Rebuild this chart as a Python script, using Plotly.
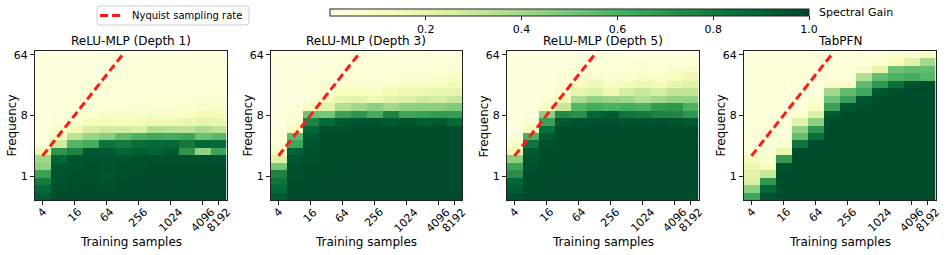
import numpy as np
import plotly.graph_objects as go

# ---------------- data ----------------
training_samples = [4, 8, 16, 32, 64, 128, 256, 512, 1024, 2048, 4096, 8192]
frequencies = [0.5, 0.6455, 0.8333, 1.0757, 1.3886, 1.7927, 2.3143, 2.9876, 3.8568, 4.9788,
               6.4273, 8.2972, 10.711, 13.827, 17.850, 23.043, 29.746, 38.40, 49.57, 64.0]
x_tick_values = [4, 16, 64, 256, 1024, 4096, 8192]
y_tick_values = [1, 8, 64]
colorbar_ticks = [0.2, 0.4, 0.6, 0.8, 1.0]
panel_titles = ["ReLU-MLP (Depth 1)", "ReLU-MLP (Depth 3)", "ReLU-MLP (Depth 5)", "TabPFN"]
nyquist_samples = [4, 128]
nyquist_freq = [2, 64]

# rows: bottom (lowest frequency) to top; columns follow training_samples
gain_depth1 = [
    [0.92, 0.97, 0.97, 0.97, 0.97, 0.98, 0.98, 0.98, 0.98, 0.98, 0.98, 0.98],
    [0.86, 0.96, 0.97, 0.97, 0.96, 0.97, 0.98, 0.98, 0.98, 0.98, 0.98, 0.98],
    [0.79, 0.95, 0.96, 0.96, 0.95, 0.97, 0.97, 0.98, 0.98, 0.97, 0.98, 0.98],
    [0.66, 0.95, 0.96, 0.96, 0.94, 0.96, 0.97, 0.97, 0.97, 0.97, 0.97, 0.97],
    [0.44, 0.94, 0.95, 0.96, 0.95, 0.96, 0.96, 0.97, 0.97, 0.97, 0.97, 0.97],
    [0.40, 0.88, 0.95, 0.95, 0.95, 0.95, 0.96, 0.96, 0.96, 0.96, 0.96, 0.96],
    [0.18, 0.70, 0.76, 0.94, 0.93, 0.88, 0.91, 0.89, 0.93, 0.70, 0.44, 0.65],
    [0.05, 0.28, 0.58, 0.62, 0.83, 0.80, 0.84, 0.86, 0.87, 0.80, 0.87, 0.86],
    [0.03, 0.12, 0.33, 0.42, 0.46, 0.55, 0.60, 0.63, 0.62, 0.64, 0.53, 0.57],
    [0.03, 0.07, 0.15, 0.25, 0.28, 0.27, 0.25, 0.36, 0.34, 0.33, 0.38, 0.33],
    [0.02, 0.04, 0.07, 0.12, 0.14, 0.13, 0.14, 0.16, 0.16, 0.17, 0.20, 0.18],
    [0.02, 0.03, 0.05, 0.07, 0.08, 0.08, 0.08, 0.09, 0.09, 0.10, 0.14, 0.12],
    [0.02, 0.03, 0.04, 0.05, 0.05, 0.05, 0.06, 0.06, 0.06, 0.07, 0.08, 0.08],
    [0.02, 0.02, 0.03, 0.04, 0.04, 0.04, 0.04, 0.05, 0.05, 0.05, 0.06, 0.06],
    [0.02, 0.02, 0.03, 0.03, 0.03, 0.04, 0.04, 0.04, 0.04, 0.04, 0.05, 0.05],
    [0.02, 0.02, 0.02, 0.03, 0.03, 0.03, 0.03, 0.03, 0.04, 0.04, 0.04, 0.04],
    [0.02, 0.02, 0.02, 0.03, 0.03, 0.03, 0.03, 0.03, 0.03, 0.03, 0.04, 0.04],
    [0.02, 0.02, 0.02, 0.02, 0.03, 0.03, 0.03, 0.03, 0.03, 0.03, 0.03, 0.03],
    [0.02, 0.02, 0.02, 0.02, 0.02, 0.02, 0.03, 0.03, 0.03, 0.03, 0.03, 0.03],
    [0.02, 0.02, 0.02, 0.02, 0.02, 0.02, 0.02, 0.02, 0.02, 0.03, 0.03, 0.03],
]

gain_depth3 = [
    [0.92, 0.97, 0.98, 0.98, 0.98, 0.98, 0.98, 0.98, 0.98, 0.98, 0.98, 0.98],
    [0.87, 0.97, 0.98, 0.98, 0.98, 0.98, 0.98, 0.98, 0.98, 0.98, 0.98, 0.98],
    [0.82, 0.97, 0.97, 0.98, 0.98, 0.98, 0.98, 0.98, 0.98, 0.98, 0.98, 0.98],
    [0.76, 0.96, 0.97, 0.97, 0.98, 0.98, 0.98, 0.98, 0.98, 0.98, 0.98, 0.98],
    [0.50, 0.96, 0.97, 0.97, 0.97, 0.98, 0.98, 0.98, 0.98, 0.98, 0.98, 0.98],
    [0.22, 0.94, 0.96, 0.97, 0.97, 0.97, 0.97, 0.97, 0.97, 0.97, 0.97, 0.97],
    [0.12, 0.90, 0.96, 0.97, 0.97, 0.97, 0.97, 0.97, 0.97, 0.97, 0.97, 0.97],
    [0.04, 0.64, 0.95, 0.97, 0.97, 0.97, 0.97, 0.97, 0.97, 0.97, 0.97, 0.97],
    [0.03, 0.56, 0.92, 0.97, 0.97, 0.97, 0.97, 0.97, 0.97, 0.97, 0.97, 0.97],
    [0.02, 0.12, 0.88, 0.96, 0.96, 0.97, 0.97, 0.97, 0.97, 0.97, 0.97, 0.97],
    [0.02, 0.05, 0.76, 0.86, 0.92, 0.94, 0.95, 0.92, 0.95, 0.90, 0.93, 0.86],
    [0.02, 0.03, 0.52, 0.50, 0.66, 0.70, 0.62, 0.76, 0.64, 0.66, 0.68, 0.67],
    [0.02, 0.03, 0.10, 0.22, 0.36, 0.40, 0.45, 0.40, 0.45, 0.45, 0.45, 0.48],
    [0.02, 0.02, 0.05, 0.12, 0.20, 0.22, 0.15, 0.22, 0.24, 0.28, 0.26, 0.30],
    [0.02, 0.02, 0.04, 0.06, 0.12, 0.12, 0.10, 0.14, 0.16, 0.16, 0.20, 0.20],
    [0.02, 0.02, 0.03, 0.04, 0.07, 0.07, 0.06, 0.08, 0.10, 0.10, 0.12, 0.14],
    [0.02, 0.02, 0.03, 0.03, 0.04, 0.05, 0.04, 0.05, 0.06, 0.06, 0.08, 0.10],
    [0.02, 0.02, 0.02, 0.03, 0.03, 0.03, 0.03, 0.04, 0.04, 0.04, 0.05, 0.06],
    [0.02, 0.02, 0.02, 0.02, 0.03, 0.03, 0.03, 0.03, 0.03, 0.03, 0.04, 0.04],
    [0.02, 0.02, 0.02, 0.02, 0.02, 0.02, 0.02, 0.02, 0.03, 0.03, 0.03, 0.03],
]

gain_depth5 = [
    [0.95, 0.98, 0.98, 0.98, 0.98, 0.98, 0.98, 0.98, 0.98, 0.98, 0.98, 0.98],
    [0.92, 0.97, 0.98, 0.98, 0.98, 0.98, 0.98, 0.98, 0.98, 0.98, 0.98, 0.98],
    [0.88, 0.97, 0.98, 0.98, 0.98, 0.98, 0.98, 0.98, 0.98, 0.98, 0.98, 0.98],
    [0.72, 0.97, 0.97, 0.98, 0.98, 0.98, 0.98, 0.98, 0.98, 0.98, 0.98, 0.98],
    [0.65, 0.96, 0.97, 0.97, 0.98, 0.98, 0.98, 0.98, 0.98, 0.98, 0.98, 0.98],
    [0.45, 0.95, 0.97, 0.97, 0.97, 0.98, 0.98, 0.98, 0.98, 0.98, 0.98, 0.98],
    [0.16, 0.92, 0.97, 0.97, 0.97, 0.97, 0.97, 0.97, 0.97, 0.97, 0.97, 0.97],
    [0.07, 0.82, 0.96, 0.97, 0.97, 0.97, 0.97, 0.97, 0.97, 0.97, 0.97, 0.97],
    [0.03, 0.60, 0.92, 0.97, 0.97, 0.97, 0.97, 0.97, 0.97, 0.97, 0.97, 0.97],
    [0.02, 0.12, 0.84, 0.97, 0.97, 0.97, 0.97, 0.97, 0.97, 0.97, 0.97, 0.97],
    [0.02, 0.05, 0.66, 0.93, 0.95, 0.96, 0.96, 0.95, 0.95, 0.96, 0.95, 0.92],
    [0.02, 0.03, 0.45, 0.74, 0.72, 0.88, 0.92, 0.82, 0.80, 0.76, 0.75, 0.70],
    [0.02, 0.02, 0.10, 0.30, 0.58, 0.62, 0.60, 0.62, 0.60, 0.68, 0.70, 0.60],
    [0.02, 0.02, 0.05, 0.14, 0.38, 0.44, 0.42, 0.40, 0.36, 0.40, 0.44, 0.44],
    [0.02, 0.02, 0.03, 0.07, 0.20, 0.24, 0.16, 0.26, 0.30, 0.26, 0.32, 0.32],
    [0.02, 0.02, 0.03, 0.05, 0.12, 0.16, 0.10, 0.13, 0.18, 0.14, 0.20, 0.22],
    [0.02, 0.02, 0.02, 0.04, 0.06, 0.08, 0.06, 0.07, 0.10, 0.08, 0.12, 0.15],
    [0.02, 0.02, 0.02, 0.03, 0.04, 0.05, 0.04, 0.05, 0.06, 0.05, 0.07, 0.08],
    [0.02, 0.02, 0.02, 0.02, 0.03, 0.03, 0.03, 0.03, 0.04, 0.03, 0.04, 0.04],
    [0.02, 0.02, 0.02, 0.02, 0.02, 0.02, 0.02, 0.02, 0.02, 0.02, 0.03, 0.03],
]

gain_tabpfn = [
    [0.64, 0.95, 0.97, 0.97, 0.97, 0.97, 0.97, 0.97, 0.97, 0.97, 0.97, 0.97],
    [0.45, 0.88, 0.97, 0.97, 0.97, 0.97, 0.97, 0.97, 0.97, 0.97, 0.97, 0.97],
    [0.25, 0.70, 0.97, 0.97, 0.97, 0.97, 0.97, 0.97, 0.97, 0.97, 0.97, 0.97],
    [0.21, 0.30, 0.97, 0.97, 0.97, 0.97, 0.97, 0.97, 0.97, 0.97, 0.97, 0.97],
    [0.17, 0.12, 0.96, 0.97, 0.97, 0.97, 0.97, 0.97, 0.97, 0.97, 0.97, 0.97],
    [0.12, 0.06, 0.68, 0.97, 0.97, 0.97, 0.97, 0.97, 0.97, 0.97, 0.97, 0.97],
    [0.06, 0.04, 0.18, 0.97, 0.97, 0.97, 0.97, 0.97, 0.97, 0.97, 0.97, 0.97],
    [0.04, 0.03, 0.06, 0.82, 0.97, 0.97, 0.97, 0.97, 0.97, 0.97, 0.97, 0.97],
    [0.03, 0.03, 0.04, 0.54, 0.84, 0.97, 0.97, 0.97, 0.97, 0.97, 0.97, 0.97],
    [0.03, 0.03, 0.03, 0.44, 0.70, 0.97, 0.97, 0.97, 0.97, 0.97, 0.97, 0.97],
    [0.03, 0.03, 0.03, 0.22, 0.45, 0.97, 0.97, 0.97, 0.97, 0.97, 0.97, 0.97],
    [0.03, 0.03, 0.03, 0.06, 0.24, 0.93, 0.97, 0.97, 0.97, 0.97, 0.97, 0.97],
    [0.03, 0.03, 0.03, 0.04, 0.10, 0.65, 0.94, 0.97, 0.97, 0.97, 0.97, 0.97],
    [0.03, 0.03, 0.03, 0.03, 0.05, 0.52, 0.66, 0.94, 0.97, 0.97, 0.97, 0.97],
    [0.03, 0.03, 0.03, 0.03, 0.03, 0.40, 0.55, 0.64, 0.94, 0.97, 0.97, 0.97],
    [0.03, 0.03, 0.03, 0.03, 0.03, 0.09, 0.10, 0.55, 0.70, 0.84, 0.95, 0.97],
    [0.03, 0.03, 0.03, 0.03, 0.03, 0.04, 0.04, 0.36, 0.55, 0.60, 0.62, 0.58],
    [0.03, 0.03, 0.03, 0.03, 0.03, 0.03, 0.03, 0.08, 0.20, 0.52, 0.55, 0.55],
    [0.03, 0.03, 0.03, 0.03, 0.03, 0.03, 0.03, 0.04, 0.06, 0.12, 0.22, 0.40],
    [0.03, 0.03, 0.03, 0.03, 0.03, 0.03, 0.03, 0.03, 0.03, 0.05, 0.06, 0.10],
]

panels = [gain_depth1, gain_depth3, gain_depth5, gain_tabpfn]

# ---------------- styling ----------------
W, H = 947, 255
FONT = "DejaVu Sans"
INK = "#222222"
NYQ_COLOR = "#ff1a1a"
ylgn = [
    [0.000, "rgb(255,255,229)"], [0.125, "rgb(247,252,185)"], [0.250, "rgb(217,240,163)"],
    [0.375, "rgb(173,221,142)"], [0.500, "rgb(120,198,121)"], [0.625, "rgb(65,171,93)"],
    [0.750, "rgb(35,132,67)"], [0.875, "rgb(0,104,55)"], [1.000, "rgb(0,69,41)"],
]

# panel pixel extents (left, right), shared top/bottom
panel_px = [(34.5, 226.5), (270.5, 462.0), (506.5, 698.5), (743.5, 935.5)]
top_px, bottom_px = 51.0, 200.0


def px_x(v):
    return v / W


def px_y(v):
    return 1 - v / H


xs = np.log2(training_samples)
ys = np.log2(frequencies)
x_range = [xs[0] - 0.5, xs[-1] + 0.5]
dy = (ys[-1] - ys[0]) / (len(ys) - 1)
y_range = [ys[0] - dy / 2, ys[-1] + dy / 2]

fig = go.Figure()
annotations = []
shapes = []
layout_axes = {}

for i, (z, title) in enumerate(zip(panels, panel_titles)):
    n = i + 1
    xa = "x" if n == 1 else f"x{n}"
    ya = "y" if n == 1 else f"y{n}"
    fig.add_trace(go.Heatmap(
        x=xs, y=ys, z=z, coloraxis="coloraxis",
        xaxis=xa, yaxis=ya, hoverongaps=False,
    ))
    fig.add_trace(go.Scatter(
        x=np.log2(nyquist_samples), y=np.log2(nyquist_freq), mode="lines",
        line=dict(color=NYQ_COLOR, width=3, dash="8px,4px"),
        name="Nyquist sampling rate", showlegend=False,
        xaxis=xa, yaxis=ya,
    ))
    l, r = panel_px[i]
    xkey = "xaxis" if n == 1 else f"xaxis{n}"
    ykey = "yaxis" if n == 1 else f"yaxis{n}"
    layout_axes[xkey] = dict(
        domain=[px_x(l), px_x(r)], range=x_range, anchor=ya,
        tickvals=list(np.log2(x_tick_values)), showticklabels=False,
        ticks="outside", ticklen=3.5, tickwidth=1, tickcolor=INK,
        showline=True, linecolor=INK, linewidth=1, mirror=True,
        showgrid=False, zeroline=False,
    )
    layout_axes[ykey] = dict(
        domain=[px_y(bottom_px), px_y(top_px)], range=y_range, anchor=xa,
        tickvals=list(np.log2(y_tick_values)), ticktext=[str(v) for v in y_tick_values],
        ticks="outside", ticklen=3.5, tickwidth=1, tickcolor=INK,
        tickfont=dict(size=11, color="black", family=FONT),
        showline=True, linecolor=INK, linewidth=1, mirror=True,
        showgrid=False, zeroline=False,
    )
    cx = px_x((l + r) / 2)
    annotations.append(dict(
        text=title, x=cx, y=px_y(41), xref="paper", yref="paper",
        xanchor="center", yanchor="middle", showarrow=False,
        font=dict(size=12, color="black", family=FONT),
    ))
    annotations.append(dict(
        text="Training samples", x=cx, y=px_y(241.5), xref="paper", yref="paper",
        xanchor="center", yanchor="middle", showarrow=False,
        font=dict(size=12, color="black", family=FONT),
    ))
    annotations.append(dict(
        text="Frequency", x=px_x(l - 23), y=px_y(126), xref="paper", yref="paper",
        xanchor="center", yanchor="middle", showarrow=False, textangle=-90,
        font=dict(size=12, color="black", family=FONT),
    ))
    for tv in x_tick_values:
        annotations.append(dict(
            text=str(tv), x=float(np.log2(tv)), y=px_y(204.5), xref=xa, yref="paper",
            xanchor="center", yanchor="top", showarrow=False, textangle=-45,
            borderpad=0,
            font=dict(size=11, color="black", family=FONT),
        ))

# colorbar label
annotations.append(dict(
    text="Spectral Gain", x=px_x(817), y=px_y(12), xref="paper", yref="paper",
    xanchor="left", yanchor="middle", showarrow=False,
    font=dict(size=11, color="black", family=FONT),
))

# legend box (matplotlib-style, rounded)
lx0, lx1, ly0, ly1, rad = 97, 249, 6, 25, 3
bx0, bx1 = px_x(lx0), px_x(lx1)
by0, by1 = px_y(ly1), px_y(ly0)
rx, ry = rad / W, rad / H
legend_path = (
    f"M {bx0 + rx},{by1} L {bx1 - rx},{by1} Q {bx1},{by1} {bx1},{by1 - ry} "
    f"L {bx1},{by0 + ry} Q {bx1},{by0} {bx1 - rx},{by0} "
    f"L {bx0 + rx},{by0} Q {bx0},{by0} {bx0},{by0 + ry} "
    f"L {bx0},{by1 - ry} Q {bx0},{by1} {bx0 + rx},{by1} Z"
)
shapes.append(dict(type="path", path=legend_path, xref="paper", yref="paper",
                   line=dict(color="#cccccc", width=1), fillcolor="rgba(255,255,255,0.8)",
                   layer="above"))
shapes.append(dict(type="line", xref="paper", yref="paper",
                   x0=px_x(100), x1=px_x(122), y0=px_y(15.5), y1=px_y(15.5),
                   line=dict(color=NYQ_COLOR, width=3, dash="8px,4px"), layer="above"))
annotations.append(dict(
    text="Nyquist sampling rate", x=px_x(129.5), y=px_y(15.5), xref="paper", yref="paper",
    xanchor="left", yanchor="middle", showarrow=False,
    font=dict(size=10, color="black", family=FONT),
))

fig.update_layout(
    width=W, height=H,
    margin=dict(l=0, r=0, t=0, b=0, autoexpand=False),
    paper_bgcolor="white", plot_bgcolor="white",
    font=dict(family=FONT, size=11, color="black"),
    coloraxis=dict(
        colorscale=ylgn, cmin=0, cmax=1,
        colorbar=dict(
            orientation="h", x=px_x(569.5), xanchor="center",
            y=px_y(9), yanchor="top", ypad=0, xpad=0,
            lenmode="pixels", len=479, thickness=6.5,
            outlinewidth=1, outlinecolor=INK,
            tickvals=colorbar_ticks, ticktext=[f"{v:.1f}" for v in colorbar_ticks],
            ticks="outside", ticklen=3.5, tickcolor=INK,
            tickfont=dict(size=11, color="black", family=FONT),
        ),
    ),
    showlegend=False,
    annotations=annotations,
    shapes=shapes,
    **layout_axes,
)

fig.write_html("out.html", config={"displayModeBar": False},
               post_script="document.body.style.margin='0';")
